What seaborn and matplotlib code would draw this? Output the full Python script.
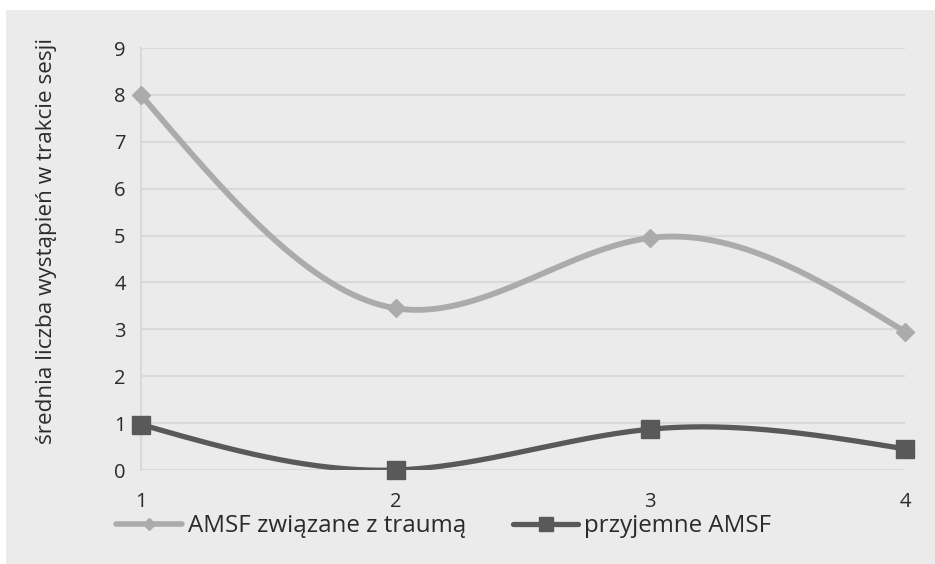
import numpy as np
import pandas as pd
import matplotlib
matplotlib.use("Agg")
import matplotlib.pyplot as plt
from matplotlib.lines import Line2D
from matplotlib.patches import Rectangle
import seaborn as sns

# ---- data ----
sessions = [1, 2, 3, 4]
trauma_amsf = [8.0, 3.45, 4.95, 2.95]
pleasant_amsf = [0.97, 0.0, 0.87, 0.45]
series_names = ["AMSF związane z traumą", "przyjemne AMSF"]
y_label = "średnia liczba wystąpień w trakcie sesji"
y_ticks = [0, 1, 2, 3, 4, 5, 6, 7, 8, 9]

sns.set_style("white")
plt.rcParams["font.family"] = ["Open Sans", "DejaVu Sans"]

TEXT = "#2b2b2b"
BG = "#ebebeb"
GRID = "#d9d9d9"
C1 = "#ababab"
C2 = "#595959"
FS_TICK = 14.5
FS_LABEL = 16.2
FS_LEG = 17.4


def smooth(x, y, n=300):
    """Natural cubic spline rendering of the data points (smoothed line)."""
    x = np.asarray(x, float)
    y = np.asarray(y, float)
    h = np.diff(x)
    m = len(x)
    M = np.zeros(m)
    if m > 2:
        A = np.zeros((m - 2, m - 2))
        r = np.zeros(m - 2)
        for i in range(m - 2):
            A[i, i] = 2 * (h[i] + h[i + 1])
            if i > 0:
                A[i, i - 1] = h[i]
            if i < m - 3:
                A[i, i + 1] = h[i + 1]
            r[i] = 6 * ((y[i + 2] - y[i + 1]) / h[i + 1] - (y[i + 1] - y[i]) / h[i])
        M[1:-1] = np.linalg.solve(A, r)
    xs = np.linspace(x[0], x[-1], n)
    idx = np.clip(np.searchsorted(x, xs) - 1, 0, m - 2)
    x0, x1 = x[idx], x[idx + 1]
    hh = x1 - x0
    a = (x1 - xs)
    b = (xs - x0)
    ys = (M[idx] * a**3 / (6 * hh) + M[idx + 1] * b**3 / (6 * hh)
          + (y[idx] / hh - M[idx] * hh / 6) * a
          + (y[idx + 1] / hh - M[idx + 1] * hh / 6) * b)
    return xs, ys


W, H = 935, 564
fig = plt.figure(figsize=(W / 100, H / 100), dpi=100, facecolor="white")
fig.patches.append(Rectangle((6 / W, 0), 1 - 6 / W, 1 - 10 / H,
                             transform=fig.transFigure, facecolor=BG,
                             edgecolor="none", zorder=-10))

ax = fig.add_axes([141 / W, 94 / H, (905 - 141) / W, (470 - 48) / H])
ax.set_facecolor("none")

for vals, col, lw in [(trauma_amsf, C1, 4.2), (pleasant_amsf, C2, 3.8)]:
    xs, ys = smooth(sessions, vals)
    df = pd.DataFrame({"x": xs, "y": ys})
    sns.lineplot(data=df, x="x", y="y", ax=ax, color=col, lw=lw,
                 sort=False, legend=False, zorder=3, solid_capstyle="round")

ax.plot(sessions, trauma_amsf, ls="none", marker="D", ms=9.5, color=C1,
        mec=C1, zorder=4, clip_on=False)
ax.plot(sessions, pleasant_amsf, ls="none", marker="s", ms=13, color=C2,
        mec=C2, zorder=4, clip_on=False)

ax.set_xlim(1, 4)
ax.set_ylim(0, 9)
ax.set_xticks(sessions)
ax.set_xticklabels([str(s) for s in sessions])
ax.set_yticks(y_ticks)
ax.set_yticklabels([str(t) for t in y_ticks])
ax.tick_params(axis="x", length=0, pad=16, labelsize=FS_TICK, labelcolor=TEXT)
ax.tick_params(axis="y", length=0, pad=11, labelsize=FS_TICK, labelcolor=TEXT)
ax.grid(axis="y", color=GRID, lw=1.6, zorder=0)
ax.grid(axis="x", visible=False)
for s in ["top", "right", "bottom"]:
    ax.spines[s].set_visible(False)
ax.spines["left"].set_color(GRID)
ax.spines["left"].set_linewidth(1.6)
ax.set_xlabel("")
ax.set_ylabel("")

fig.text(47 / W, 1 - 241 / H, y_label, rotation=90, ha="center", va="center",
         fontsize=FS_LABEL, color=TEXT)

handles = [
    Line2D([], [], color=C1, lw=4.0, marker="D", ms=6, mec=C1, solid_capstyle="round"),
    Line2D([], [], color=C2, lw=3.8, marker="s", ms=9.5, mec=C2, solid_capstyle="round"),
]
fig.legend(handles, series_names, loc="center", bbox_to_anchor=(444 / W, 1 - 526 / H),
           ncol=2, frameon=False, fontsize=FS_LEG, labelcolor=TEXT,
           handlelength=2.7, handletextpad=0.25, columnspacing=1.95)

fig.savefig("out.png", dpi=100, facecolor="white")
